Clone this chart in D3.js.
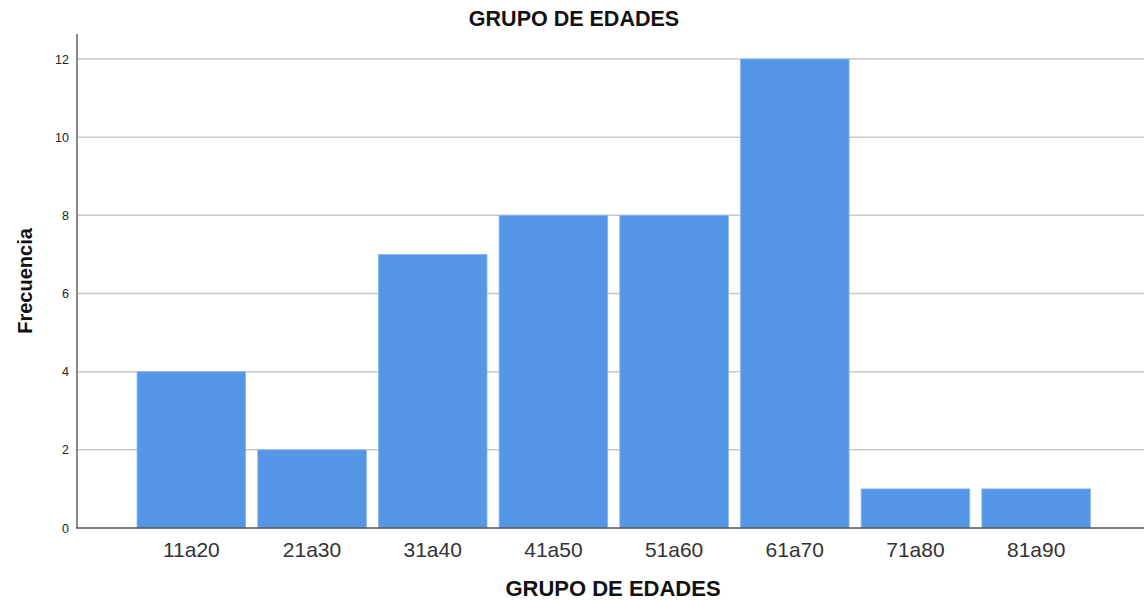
<!DOCTYPE html>
<html>
<head>
<meta charset="utf-8">
<script src="https://cdn.jsdelivr.net/npm/d3@7"></script>
<style>
  body { margin: 0; background: #fff; }
  text { font-family: "Liberation Sans", Arial, sans-serif; }
</style>
</head>
<body>
<div id="chart"></div>
<script>
var categories = ["11a20", "21a30", "31a40", "41a50", "51a60", "61a70", "71a80", "81a90"];
var frequencies = [4, 2, 7, 8, 8, 12, 1, 1];
var yTicks = [0, 2, 4, 6, 8, 10, 12];

function main(){
    var width = 1144, height = 600;

    var svg = d3.select("#chart").append("svg")
        .attr("width", width)
        .attr("height", height);

    var xScale = d3.scaleBand().domain(categories)
        .range([131, 1096.5])
        .paddingInner(0.1)
        .paddingOuter(0.05);
    var yScale = d3.scaleLinear().domain([0, 12]).range([528, 59]);

    // gridlines
    svg.append("g").selectAll("line")
        .data(yTicks.filter(function(d){ return d > 0; }))
        .enter().append("line")
        .attr("x1", 77).attr("x2", width)
        .attr("y1", function(d){ return yScale(d); })
        .attr("y2", function(d){ return yScale(d); })
        .attr("stroke", "#c8c8c8")
        .attr("stroke-width", 1.5);

    // bars
    svg.append("g").selectAll("rect")
        .data(frequencies)
        .enter().append("rect")
        .attr("x", function(d, i){ return xScale(categories[i]); })
        .attr("y", function(d){ return yScale(d); })
        .attr("width", xScale.bandwidth())
        .attr("height", function(d){ return yScale(0) - yScale(d); })
        .attr("fill", "#5596e6")
        .attr("stroke", "#8ab8ee")
        .attr("stroke-width", 0.8);

    // y axis
    var yAxis = svg.append("g")
        .attr("transform", "translate(77,0)")
        .call(d3.axisLeft(yScale).tickValues(yTicks).tickSize(0).tickPadding(8));
    yAxis.select(".domain").remove();
    yAxis.selectAll("text")
        .attr("font-size", "12.5px")
        .attr("fill", "#222")
        .style("font-family", "Liberation Sans, Arial, sans-serif");
    svg.append("line")
        .attr("x1", 77).attr("x2", 77)
        .attr("y1", 34).attr("y2", yScale(0))
        .attr("stroke", "#888").attr("stroke-width", 2);

    // x axis
    var xAxis = svg.append("g")
        .attr("transform", "translate(0," + yScale(0) + ")")
        .call(d3.axisBottom(xScale).tickSize(0).tickPadding(14));
    xAxis.select(".domain").remove();
    xAxis.selectAll("text")
        .attr("font-size", "21px")
        .attr("fill", "#333")
        .style("font-family", "Liberation Sans, Arial, sans-serif");
    svg.append("line")
        .attr("x1", 76).attr("x2", width)
        .attr("y1", yScale(0)).attr("y2", yScale(0))
        .attr("stroke", "#555").attr("stroke-width", 1.5);

    // title
    svg.append("text")
        .attr("x", 574).attr("y", 26)
        .attr("text-anchor", "middle")
        .attr("font-size", "21.5px")
        .attr("font-weight", "bold")
        .attr("fill", "#111")
        .text("GRUPO DE EDADES");

    // axis labels
    svg.append("text")
        .attr("x", 613).attr("y", 596)
        .attr("text-anchor", "middle")
        .attr("font-size", "22px")
        .attr("font-weight", "bold")
        .attr("fill", "#111")
        .text("GRUPO DE EDADES");

    svg.append("text")
        .attr("transform", "translate(32,281) rotate(-90)")
        .attr("text-anchor", "middle")
        .attr("font-size", "20px")
        .attr("font-weight", "bold")
        .attr("fill", "#111")
        .text("Frecuencia");
}
main();
</script>
</body>
</html>
